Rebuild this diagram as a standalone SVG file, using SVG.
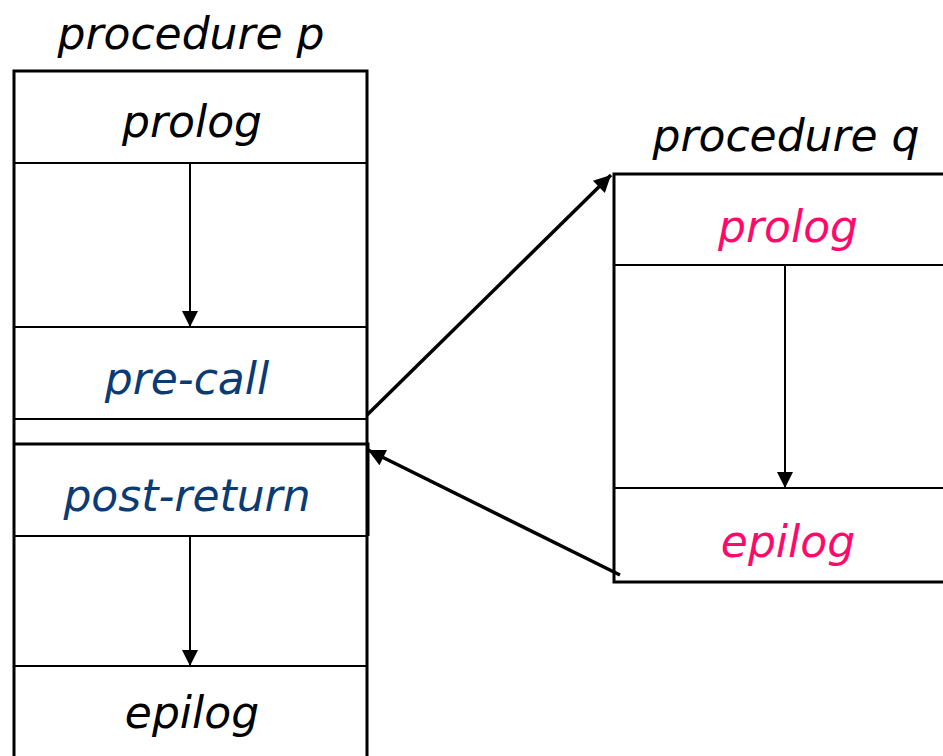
<svg xmlns="http://www.w3.org/2000/svg" width="943" height="756" viewBox="0 0 943 756">
<style>
.lbl{font-family:"DejaVu Sans","Liberation Sans",sans-serif;font-style:italic;font-size:44px;text-anchor:middle}
.blk{fill:#000}
.blue{fill:#0B3B73}
.pink{fill:#FF0A6C}
.frame{fill:none;stroke:#000;stroke-width:3}
.div{stroke:#000;stroke-width:2;fill:none}
.flow{stroke:#000;stroke-width:2;fill:none}
.call{stroke:#000;stroke-width:3.5;fill:none}
</style>
<defs>
<marker id="ah" viewBox="0 0 10 10" refX="10" refY="5" markerWidth="16" markerHeight="16" markerUnits="userSpaceOnUse" orient="auto">
<path d="M0,0 L10,5 L0,10 z" fill="#000"/>
</marker>
<marker id="ah2" viewBox="0 0 10 10" refX="10" refY="5" markerWidth="20" markerHeight="17" markerUnits="userSpaceOnUse" orient="auto">
<path d="M0,0 L10,5 L0,10 z" fill="#000"/>
</marker>
</defs>
<rect width="943" height="756" fill="#fff"/>
<g id="proc-p">
<text class="lbl blk" x="191" y="49">procedure p</text>
<path class="frame" d="M14,760 V71 H367 V760"/>
<g id="p-prolog">
<line class="div" x1="14" y1="163" x2="367" y2="163"/>
<text class="lbl blk" x="192" y="137">prolog</text>
</g>
<g id="p-precall">
<line class="div" x1="14" y1="327" x2="367" y2="327"/>
<line class="div" x1="14" y1="419" x2="367" y2="419"/>
<text class="lbl blue" x="187" y="394">pre-call</text>
</g>
<g id="p-postreturn">
<path class="frame" d="M14,444 H368 V536"/>
<line class="div" x1="14" y1="536" x2="368" y2="536"/>
<text class="lbl blue" x="187" y="511">post-return</text>
</g>
<g id="p-epilog">
<line class="div" x1="14" y1="666" x2="367" y2="666"/>
<text class="lbl blk" x="192" y="728">epilog</text>
</g>
</g>
<g id="proc-q">
<text class="lbl blk" x="786" y="151">procedure q</text>
<path class="frame" d="M950,174 H614 V582 H950"/>
<g id="q-prolog">
<line class="div" x1="614" y1="265" x2="950" y2="265"/>
<text class="lbl pink" x="788" y="242">prolog</text>
</g>
<g id="q-epilog">
<line class="div" x1="614" y1="488" x2="950" y2="488"/>
<text class="lbl pink" x="788" y="557">epilog</text>
</g>
</g>
<g id="connectors">
<line class="flow" x1="190" y1="163" x2="190" y2="327" marker-end="url(#ah)"/>
<line class="flow" x1="190" y1="536" x2="190" y2="666" marker-end="url(#ah)"/>
<line class="flow" x1="785" y1="265" x2="785" y2="488" marker-end="url(#ah)"/>
<line class="call" x1="367" y1="415" x2="611" y2="175" marker-end="url(#ah2)"/>
<line class="call" x1="620" y1="575" x2="368" y2="450" marker-end="url(#ah2)"/>
</g>
</svg>
